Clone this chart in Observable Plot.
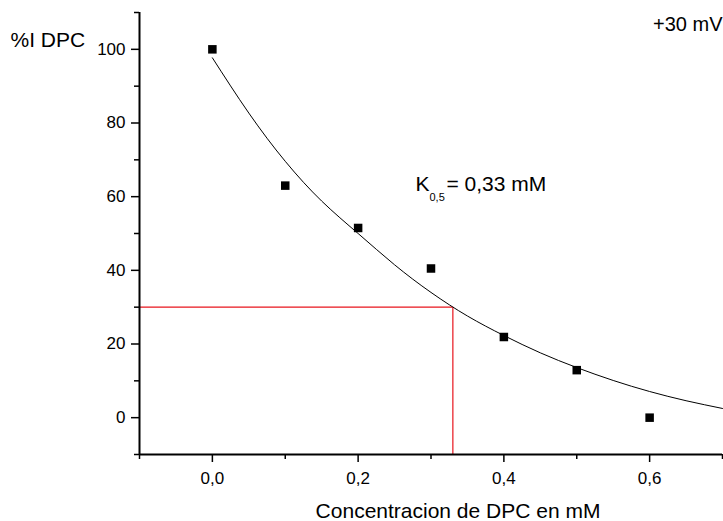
<!DOCTYPE html>
<html>
<head>
<meta charset="utf-8">
<script src="https://cdn.jsdelivr.net/npm/d3@7"></script>
<script src="https://cdn.jsdelivr.net/npm/@observablehq/plot@0.6"></script>
<style>
  html, body { margin: 0; padding: 0; background: white; }
</style>
</head>
<body>
<div id="chart"></div>
<script>
// Measured data points (square markers)
const concentration = [0, 0.1, 0.2, 0.3, 0.4, 0.5, 0.6];
const inhibition = [100, 63, 51.5, 40.5, 21.9, 12.9, 0];

// Fitted curve
const fitX = [0, 0.05, 0.1, 0.15, 0.2, 0.25, 0.3, 0.35, 0.4, 0.45, 0.5, 0.55, 0.6, 0.65, 0.7];
const fitY = [97.7, 82.7, 69.6, 58.8, 50.0, 41.5, 34.0, 27.6, 22.3, 17.6, 13.6, 10.1, 7.1, 4.6, 2.5];

// K0.5 guide
const k05 = 0.33;
const halfLevel = 30;

// Ticks
const xMajor = [0, 0.2, 0.4, 0.6];
const xMinor = [-0.1, 0.1, 0.3, 0.5, 0.7];
const yMajor = [0, 20, 40, 60, 80, 100];
const yMinor = [-10, 10, 30, 50, 70, 90, 110];
const xDomain = [-0.1, 0.7];
const yDomain = [-10, 110];

const xLabel = "Concentracion de DPC en mM";
const yLabel = "%I DPC";
const voltageLabel = "+30 mV";

const points = concentration.map((c, i) => ({x: c, y: inhibition[i]}));
const fit = fitX.map((c, i) => ({x: c, y: fitY[i]}));
const fmtX = d => d.toFixed(1).replace(".", ",");
const blank = () => "";

const chart = Plot.plot({
  width: 723,
  height: 521,
  marginLeft: 139,
  marginRight: 1,
  marginTop: 12,
  marginBottom: 67,
  x: {domain: xDomain},
  y: {domain: yDomain},
  style: {fontFamily: "'Liberation Sans', Arial, sans-serif", background: "white", color: "black"},
  marks: [
    // red guide lines
    Plot.ruleY([halfLevel], {x1: xDomain[0], x2: k05, stroke: "#e8141c", strokeWidth: 1.2}),
    Plot.ruleX([k05], {y1: yDomain[0], y2: halfLevel, stroke: "#e8141c", strokeWidth: 1.2}),
    // fitted curve
    Plot.line(fit, {x: "x", y: "y", curve: "natural", stroke: "black", strokeWidth: 1}),
    // data squares
    Plot.dot(points, {x: "x", y: "y", symbol: "square", r: 4.8, fill: "black", stroke: "none"}),
    // axes lines
    Plot.ruleX([xDomain[0]], {stroke: "black", strokeWidth: 2}),
    Plot.ruleY([yDomain[0]], {stroke: "black", strokeWidth: 2}),
    // x ticks
    Plot.axisX(xMajor, {tickSize: 8, tickPadding: 9, tickFormat: fmtX, fontSize: 17, strokeWidth: 1.5, label: null}),
    Plot.axisX(xMinor, {tickSize: 5, tickFormat: blank, strokeWidth: 1.5, label: null}),
    // y ticks
    Plot.axisY(yMajor, {tickSize: 8, tickPadding: 6, fontSize: 17, strokeWidth: 1.5, label: null}),
    Plot.axisY(yMinor, {tickSize: 5, tickFormat: blank, strokeWidth: 1.5, label: null}),
    // labels
    Plot.text([xLabel], {text: d => d, frameAnchor: "bottom", dx: 27, dy: 57, fontSize: 21, lineAnchor: "middle"}),
    Plot.text([yLabel], {text: d => d, frameAnchor: "top-left", textAnchor: "start", dx: -129, dy: 28, fontSize: 21, lineAnchor: "middle"}),
    Plot.text([voltageLabel], {text: d => d, frameAnchor: "top-right", textAnchor: "end", dx: 0, dy: 12, fontSize: 20, lineAnchor: "middle"}),
    // K0.5 annotation
    Plot.text(["K"], {text: d => d, frameAnchor: "top-left", textAnchor: "start", dx: 276, dy: 172, fontSize: 21, lineAnchor: "middle"}),
    Plot.text(["0,5"], {text: d => d, frameAnchor: "top-left", textAnchor: "start", dx: 290, dy: 185, fontSize: 11, lineAnchor: "middle"}),
    Plot.text(["= 0,33 mM"], {text: d => d, frameAnchor: "top-left", textAnchor: "start", dx: 307, dy: 172, fontSize: 21, lineAnchor: "middle"})
  ]
});
document.getElementById("chart").appendChild(chart);
</script>
</body>
</html>
